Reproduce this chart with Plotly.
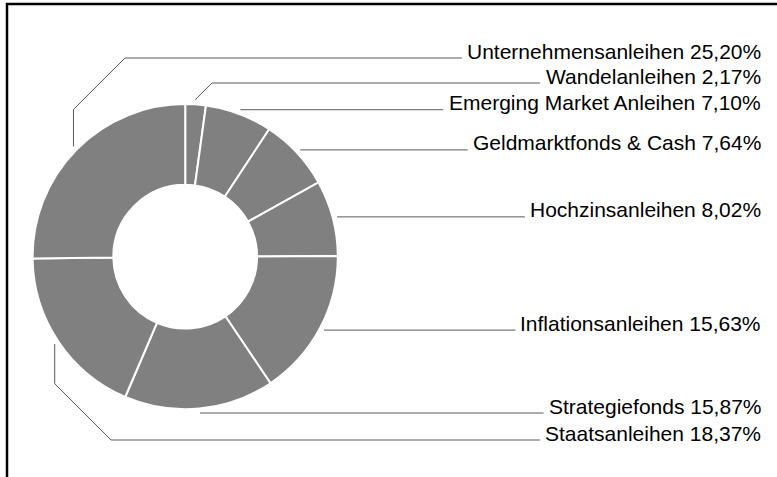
import math
import plotly.graph_objects as go

# ---- data ----
categories = [
    "Wandelanleihen",
    "Emerging Market Anleihen",
    "Geldmarktfonds & Cash",
    "Hochzinsanleihen",
    "Inflationsanleihen",
    "Strategiefonds",
    "Staatsanleihen",
    "Unternehmensanleihen",
]
values = [2.17, 7.10, 7.64, 8.02, 15.63, 15.87, 18.37, 25.20]

# ---- layout parameters (pixels) ----
W, H = 777, 477
CX, CY, R = 185.2, 256.7, 152.6
HOLE = 0.471
CONN_R = 157.0
TEXT_RIGHT = 763
FONT_SIZE = 21
# label line y overrides (None -> level with connector start) and elbow x for crooked lines
label_y_override = [83, None, None, None, None, None, 440, 58]
elbow_x = [212, None, None, None, None, None, 111, 125]

# Arial / Helvetica advance widths (1/1000 em)
AW = {" ": 278, "%": 889, "&": 667, ",": 278, "A": 667, "C": 722, "E": 667, "G": 778,
      "H": 722, "I": 278, "M": 833, "S": 667, "U": 722, "W": 944, "a": 556, "c": 500,
      "d": 556, "e": 556, "f": 278, "g": 556, "h": 556, "i": 222, "k": 500, "l": 222,
      "m": 833, "n": 556, "o": 556, "r": 333, "s": 500, "t": 278, "z": 500}
for dch in "0123456789":
    AW[dch] = 556


def text_width(s):
    return sum(AW.get(ch, 556) for ch in s) * FONT_SIZE / 1000.0


fig = go.Figure()
fig.add_trace(go.Pie(
    labels=categories,
    values=values,
    sort=False,
    direction="clockwise",
    rotation=0,
    hole=HOLE,
    textinfo="none",
    hoverinfo="label+percent",
    marker=dict(colors=["#808080"] * len(values), line=dict(color="white", width=2)),
    showlegend=False,
    domain=dict(x=[(CX - R) / W, (CX + R) / W],
                y=[(H - CY - R) / H, (H - CY + R) / H]),
))

# invisible pixel-space axes for connectors and labels
fig.add_trace(go.Scatter(x=[0, W], y=[0, H], mode="markers",
                         marker=dict(opacity=0), hoverinfo="skip", showlegend=False))

shapes = []
annotations = []
total = sum(values)
cum = 0.0
for i, (cat, v) in enumerate(zip(categories, values)):
    mid = (cum + v / 2.0) / total * 2 * math.pi
    cum += v
    sx = CX + CONN_R * math.sin(mid)
    sy = CY - CONN_R * math.cos(mid)
    ly = label_y_override[i] if label_y_override[i] is not None else sy
    label = f"{cat} {v:.2f}".replace(".", ",") + "%"
    tw = text_width(label)
    line_end = TEXT_RIGHT - 2 - tw - 5
    pts = [(sx, sy)]
    if elbow_x[i] is not None:
        hx = elbow_x[i]
        dx = abs(hx - sx)
        sign = 1 if ly > sy else -1
        vy = ly - sign * dx
        pts.append((sx, vy))
        pts.append((hx, ly))
    else:
        pts.append((sx, ly))
    pts.append((line_end, ly))
    path = "M " + " L ".join(f"{px:.2f},{py:.2f}" for px, py in pts)
    shapes.append(dict(type="path", path=path, xref="x", yref="y",
                       line=dict(color="#5a5a5a", width=1)))
    annotations.append(dict(x=TEXT_RIGHT, y=ly - 7, xref="x", yref="y", text=label,
                            showarrow=False, xanchor="right", yanchor="middle",
                            font=dict(family="Liberation Sans, Arial, Helvetica, sans-serif",
                                      size=FONT_SIZE, color="#000000")))

# frame (top and left edges)
shapes.append(dict(type="path", path=f"M 7,{H} L 7,4 L {W},4", xref="x", yref="y",
                   line=dict(color="#000000", width=2.5)))

fig.update_layout(
    width=W, height=H,
    margin=dict(l=0, r=0, t=0, b=0),
    paper_bgcolor="white", plot_bgcolor="white",
    xaxis=dict(range=[0, W], visible=False, fixedrange=True),
    yaxis=dict(range=[H, 0], visible=False, fixedrange=True),
    shapes=shapes,
    annotations=annotations,
)

fig.write_html("out.html",
               config={"displayModeBar": False},
               post_script="document.body.style.margin='0';document.body.style.overflow='hidden';")
